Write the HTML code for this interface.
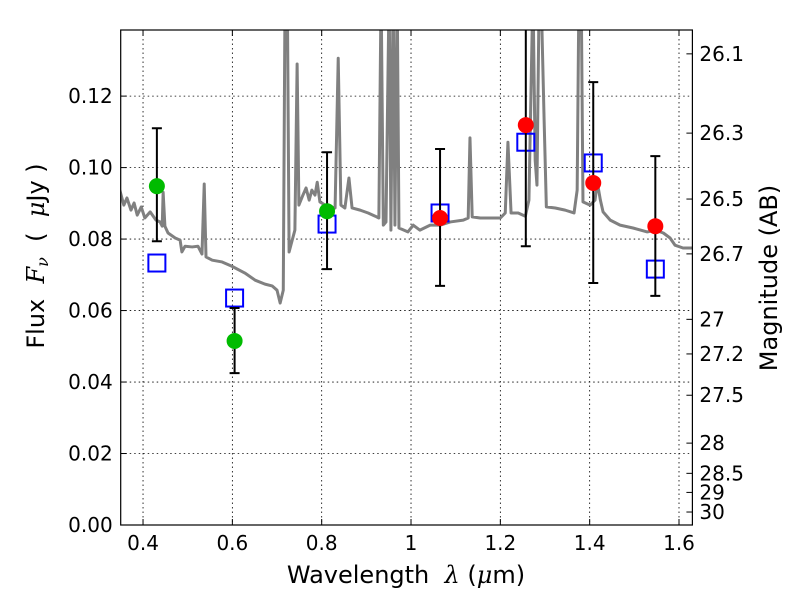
<!DOCTYPE html>
<html><head><meta charset="utf-8"><style>
body{margin:0;background:#fff}
svg{display:block;font-family:"DejaVu Sans","Liberation Sans",sans-serif}
text{white-space:pre}
</style></head><body>
<svg id="chart" width="800" height="600" viewBox="0 0 800 600">
<rect width="800" height="600" fill="#fff"/>
<defs><clipPath id="clip"><rect x="120.7" y="30" width="571.7" height="495"/></clipPath></defs>
<g id="grid"></g>
<g id="spec" clip-path="url(#clip)"></g>
<g id="marks"></g>
<rect x="120.7" y="30" width="571.7" height="495" fill="none" stroke="#000" stroke-width="1.2"/>
<g id="axes"></g>
<text x="406" y="583" font-size="24" text-anchor="middle" xml:space="preserve">Wavelength  <tspan font-style="italic" font-family="DejaVu Serif,serif">λ</tspan> (<tspan font-style="italic" font-family="DejaVu Serif,serif">μ</tspan>m)</text>
<text transform="translate(44,256) rotate(-90)" font-size="24" text-anchor="middle" xml:space="preserve">Flux  <tspan font-style="italic" font-family="DejaVu Serif,serif">F</tspan><tspan font-style="italic" font-family="DejaVu Serif,serif" font-size="16" dy="4">ν</tspan><tspan dy="-4">  (  </tspan><tspan font-style="italic" font-family="DejaVu Serif,serif">μ</tspan>Jy )</text>
<text transform="translate(777,278) rotate(-90)" font-size="24" text-anchor="middle">Magnitude (AB)</text>
</svg>
<script>
const specLam=[.348,.357,.364,.373,.380,.387,.396,.404,.416,.429,.438,.443,.445,.449,.456,.472,.483,.487,.494,.510,.523,.532,.537,.541,.555,.577,.599,.628,.651,.673,.689,.700,.707,.714,.718,.723,.727,.734,.740,.745,.749,.758,.765,.772,.778,.785,.790,.796,.808,.819,.830,.837,.843,.852,.861,.868,.886,.904,.920,.928,.933,.938,.944,.951,.955,.960,.964,.969,.973,.993,1.005,1.020,1.043,1.065,1.088,1.117,1.128,1.132,1.137,1.155,1.177,1.200,1.211,1.217,1.224,1.240,1.256,1.264,1.273,1.278,1.282,1.287,1.291,1.298,1.303,1.323,1.345,1.365,1.372,1.376,1.381,1.385,1.401,1.412,1.417,1.424,1.430,1.446,1.468,1.497,1.529,1.547,1.565,1.580,1.591,1.609,1.632];
const specFlux=[.0937,.0895,.0915,.0881,.0901,.0867,.0890,.0859,.0876,.0853,.0848,.0836,.0931,.0836,.0817,.0803,.0797,.0764,.0780,.0778,.0780,.0758,.0954,.0750,.0741,.0736,.0724,.0705,.0685,.0674,.0669,.0657,.0621,.0657,.15,.15,.0764,.0797,.0825,.1290,.0895,.0923,.0943,.0909,.0937,.0923,.0959,.0904,.0895,.0890,.0887,.1306,.0895,.0887,.0971,.0887,.0881,.0873,.0864,.0859,.15,.0839,.0848,.15,.0825,.15,.0839,.15,.0831,.0820,.0839,.0825,.0839,.0839,.0848,.0853,.0859,.1083,.0862,.0859,.0859,.0859,.0873,.1071,.0873,.0873,.0864,.0909,.15,.1021,.0951,.15,.15,.1133,.0890,.0887,.0881,.0873,.0937,.15,.15,.0904,.0895,.0909,.0959,.0909,.0876,.0853,.0839,.0831,.0820,.0825,.0817,.0803,.0783,.0775,.0775];
const obsLam=[0.431,0.605,0.812,1.065,1.257,1.408,1.547];
const obsFlux=[0.0948,0.0515,0.0878,0.0859,0.1119,0.0957,0.0836];
const obsLo=[0.0794,0.0425,0.0716,0.0669,0.0780,0.0677,0.0641];
const obsHi=[0.1110,0.0607,0.1043,0.1052,0.1600,0.1239,0.1032];
const obsColor=['#00bb00','#00bb00','#00bb00','#ff0000','#ff0000','#ff0000','#ff0000'];
const modelFlux=[0.0733,0.0635,0.0842,0.0873,0.1071,0.1013,0.0716];
const xTicks=[0.4,0.6,0.8,1.0,1.2,1.4,1.6];
const xTickLabels=['0.4','0.6','0.8','1','1.2','1.4','1.6'];
const yTicks=[0,0.02,0.04,0.06,0.08,0.10,0.12];
const yTickLabels=['0.00','0.02','0.04','0.06','0.08','0.10','0.12'];
const magTicks=[26.1,26.3,26.5,26.7,27,27.2,27.5,28,28.5,29,30];
const magTickLabels=['26.1','26.3','26.5','26.7','27','27.2','27.5','28','28.5','29','30'];

const X0=0.35,X1=1.63,Y0=0,Y1=0.1385,L=120.7,R=692.4,T=30,B=525;
const sx=v=>L+(v-X0)/(X1-X0)*(R-L);
const sy=v=>B-(v-Y0)/(Y1-Y0)*(B-T);
const NS='http://www.w3.org/2000/svg';
function mk(tag,attrs,parent){const e=document.createElementNS(NS,tag);for(const k in attrs)e.setAttribute(k,attrs[k]);parent.appendChild(e);return e;}
const grid=document.getElementById('grid'),axes=document.getElementById('axes'),spec=document.getElementById('spec'),marks=document.getElementById('marks');
xTicks.forEach((t,i)=>{const x=sx(t);
 const g=mk('line',{x1:x,x2:x,y1:T,y2:B,stroke:'#000','stroke-width':0.8,'stroke-dasharray':'1.5,3'},grid);
 
 mk('line',{x1:x,x2:x,y1:B,y2:B-6,stroke:'#000'},axes);mk('line',{x1:x,x2:x,y1:T,y2:T+6,stroke:'#000'},axes);
 const tx=mk('text',{x:x,y:B+25,'font-size':20,'text-anchor':'middle'},axes);tx.textContent=xTickLabels[i];
 });
yTicks.forEach((t,i)=>{const y=sy(t);
 const g=mk('line',{x1:L,x2:R,y1:y,y2:y,stroke:'#000','stroke-width':0.8,'stroke-dasharray':'1.5,3'},grid);
 
 mk('line',{x1:L,x2:L+6,y1:y,y2:y,stroke:'#000'},axes);
 const tx=mk('text',{x:L-8,y:y+7,'font-size':20,'text-anchor':'end'},axes);tx.textContent=yTickLabels[i];
 });
magTicks.forEach((m,i)=>{const y=sy(Math.pow(10,(23.9-m)/2.5));
 mk('line',{x1:R,x2:R-6,y1:y,y2:y,stroke:'#000'},axes);
 const tx=mk('text',{x:R+7,y:y+7,'font-size':20},axes);tx.textContent=magTickLabels[i];
 });
const pl=mk('polyline',{points:specLam.map((l,i)=>sx(l)+','+sy(specFlux[i])).join(' '),fill:'none',stroke:'#808080','stroke-width':3,'stroke-linejoin':'round'},spec);

obsLam.forEach((l,i)=>{const x=sx(l);
 const sq=mk('rect',{x:x-8.5,y:sy(modelFlux[i])-8.5,width:17,height:17,fill:'none',stroke:'#0000ff','stroke-width':2},marks);
 
 const yh=Math.max(sy(obsHi[i]),T);
 const eb=mk('path',{d:`M${x},${yh}V${sy(obsLo[i])}M${x-5},${sy(obsLo[i])}H${x+5}`+(obsHi[i]<Y1?`M${x-5},${yh}H${x+5}`:''),stroke:'#000','stroke-width':2,fill:'none'},marks);
 
 const c=mk('circle',{cx:x,cy:sy(obsFlux[i]),r:8,fill:obsColor[i]},marks);
 });
</script>
</body></html>
